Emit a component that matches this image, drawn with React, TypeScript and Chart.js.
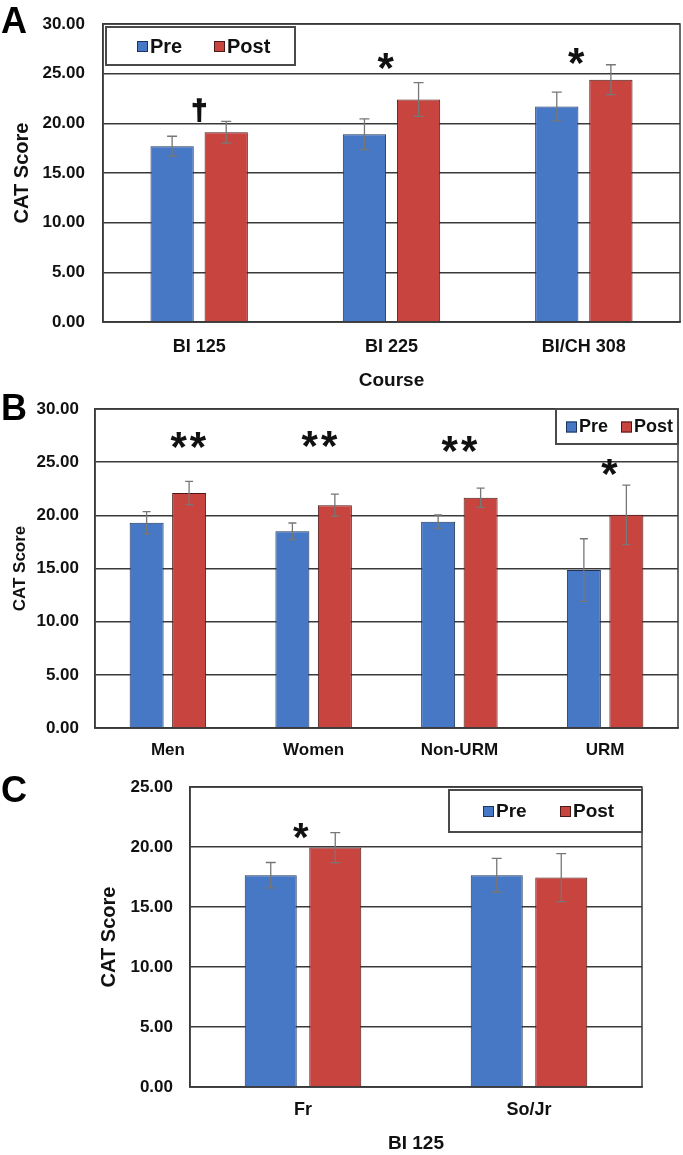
import React, { useEffect, useRef } from 'react';
import { Chart, registerables } from 'chart.js';
Chart.register(...registerables);

// ---------- DATA ----------
// Panel A: by course
const courseLabels = ['BI 125', 'BI 225', 'BI/CH 308'];
const coursePre = [17.7, 18.9, 21.7];
const coursePost = [19.1, 22.4, 24.4];
const coursePreErr = [1.0, 1.55, 1.45];
const coursePostErr = [1.1, 1.7, 1.5];
const courseSig = ['\u2020', '*', '*'];
const courseSigY = [21.3, 26.3, 26.8];
const courseSigDx = [0, -0.03, -0.04];

// Panel B: by demographic group
const groupLabels = ['Men', 'Women', 'Non-URM', 'URM'];
const groupPre = [19.3, 18.5, 19.4, 14.85];
const groupPost = [22.1, 20.95, 21.65, 20.05];
const groupPreErr = [1.05, 0.78, 0.63, 2.95];
const groupPostErr = [1.1, 1.05, 0.9, 2.8];
const groupSig = ['**', '**', '**', '*'];
const groupSigY = [27.1, 27.2, 26.7, 24.5];
const groupSigDx = [0.14, 0.04, 0, 0.03];

// Panel C: BI 125 by class standing
const yearLabels = ['Fr', 'So/Jr'];
const yearPre = [17.65, 17.65];
const yearPost = [19.95, 17.45];
const yearPreErr = [1.06, 1.4];
const yearPostErr = [1.25, 2.0];
const yearSig = ['*', ''];
const yearSigY = [21.3, 0];
const yearSigDx = [-0.01, 0];

const seriesNames = ['Pre', 'Post'];
const yTickStep = 5;

// ---------- STYLE ----------
const FONT = '"Liberation Sans", Arial, sans-serif';
const BLUE = '#4778c5';
const RED = '#c8443f';
const BLUE_EDGE = '#1f3358';
const RED_EDGE = '#4a1a18';
const GRID = '#3a3a3a';
const TEXT = '#111111';
const ERR = '#777777';
const PAIR_SPACING = 3;

type Panel = {
  letter: string;
  labels: string[];
  pre: number[];
  post: number[];
  preErr: number[];
  postErr: number[];
  sig: string[];
  sigY: number[];
  sigDx: number[];
  sigSize: number;
  max: number;
  xTitle: string;
  top: number;
  height: number;
  padTop: number;
  padRight: number;
  yAxisW: number;
  xAxisH: number;
  yTickPad: number;
  xTickPad: number;
  xTickSize: number;
  yTickSize: number;
  yTitleSize: number;
  yTitlePad: number;
  cat: number;
  bar: number;
  capW: number;
  legend: { dx: number; dy: number; w: number; h: number; fromRight: boolean; items: number[]; size: number };
  letterY: number;
};

const panels: Panel[] = [
  {
    letter: 'A', labels: courseLabels, pre: coursePre, post: coursePost,
    preErr: coursePreErr, postErr: coursePostErr, sig: courseSig, sigY: courseSigY, sigDx: courseSigDx,
    sigSize: 42, max: 30, xTitle: 'Course',
    top: 0, height: 392, padTop: 24, padRight: 3, yAxisW: 103, xAxisH: 70,
    yTickPad: 18, xTickPad: 14, xTickSize: 18, yTickSize: 17, yTitleSize: 20, yTitlePad: 10,
    cat: 0.5625, bar: 0.8, capW: 10,
    legend: { dx: 3, dy: 3, w: 189, h: 38, fromRight: false, items: [31, 108], size: 20 },
    letterY: 33,
  },
  {
    letter: 'B', labels: groupLabels, pre: groupPre, post: groupPost,
    preErr: groupPreErr, postErr: groupPostErr, sig: groupSig, sigY: groupSigY, sigDx: groupSigDx,
    sigSize: 42, max: 30, xTitle: '',
    top: 392, height: 368, padTop: 17, padRight: 5, yAxisW: 95, xAxisH: 32,
    yTickPad: 16, xTickPad: 12, xTickSize: 17, yTickSize: 17, yTitleSize: 17, yTitlePad: 10,
    cat: 0.583, bar: 0.8, capW: 8,
    legend: { dx: 122, dy: 0, w: 122, h: 35, fromRight: true, items: [10, 65], size: 18 },
    letterY: 28,
  },
  {
    letter: 'C', labels: yearLabels, pre: yearPre, post: yearPost,
    preErr: yearPreErr, postErr: yearPostErr, sig: yearSig, sigY: yearSigY, sigDx: yearSigDx,
    sigSize: 40, max: 25, xTitle: 'BI 125',
    top: 760, height: 395, padTop: 27, padRight: 41, yAxisW: 190, xAxisH: 68,
    yTickPad: 17, xTickPad: 12, xTickSize: 18, yTickSize: 17, yTitleSize: 20, yTitlePad: 97,
    cat: 0.571, bar: 0.806, capW: 10,
    legend: { dx: 193, dy: 3, w: 193, h: 42, fromRight: true, items: [34, 111], size: 19 },
    letterY: 42,
  },
];

function makeExtras(p: Panel) {
  return {
    id: 'extras' + p.letter,
    beforeDatasetsDraw(chart: any) {
      const { ctx, chartArea } = chart;
      const { left, top, right, bottom } = chartArea;
      ctx.save();
      ctx.strokeStyle = GRID;
      ctx.lineWidth = 1.5;
      ctx.strokeRect(left, top, right - left, bottom - top);
      ctx.restore();
    },
    afterDatasetsDraw(chart: any) {
      const { ctx } = chart;
      const yScale = chart.scales.y;
      const errs = [p.preErr, p.postErr];
      const vals = [p.pre, p.post];
      ctx.save();
      ctx.strokeStyle = ERR;
      ctx.lineWidth = 1.3;
      for (let d = 0; d < 2; d++) {
        const meta = chart.getDatasetMeta(d);
        meta.data.forEach((el: any, j: number) => {
          const x = el.x;
          const yHi = yScale.getPixelForValue(vals[d][j] + errs[d][j]);
          const yLo = yScale.getPixelForValue(vals[d][j] - errs[d][j]);
          ctx.beginPath();
          ctx.moveTo(x, yHi);
          ctx.lineTo(x, yLo);
          ctx.moveTo(x - p.capW / 2, yHi);
          ctx.lineTo(x + p.capW / 2, yHi);
          ctx.moveTo(x - p.capW / 2, yLo);
          ctx.lineTo(x + p.capW / 2, yLo);
          ctx.stroke();
        });
      }
      ctx.restore();
    },
    afterDraw(chart: any) {
      const { ctx, chartArea } = chart;
      const xScale = chart.scales.x;
      const yScale = chart.scales.y;
      ctx.save();
      // significance marks
      ctx.fillStyle = TEXT;
      ctx.textAlign = 'center';
      ctx.textBaseline = 'alphabetic';
      const catW = (chartArea.right - chartArea.left) / p.labels.length;
      p.sig.forEach((s, j) => {
        if (!s) return;
        const isDagger = s === '\u2020';
        const multi = s.length > 1;
        ctx.font = `bold ${isDagger ? 28 : p.sigSize}px ${FONT}`;
        (ctx as any).letterSpacing = multi ? `${PAIR_SPACING}px` : '0px';
        const m = ctx.measureText(s);
        const cx = xScale.getPixelForValue(j) + p.sigDx[j] * catW;
        const cy = yScale.getPixelForValue(p.sigY[j]);
        const by = cy + (m.actualBoundingBoxAscent - m.actualBoundingBoxDescent) / 2;
        const ox = multi ? PAIR_SPACING / 2 : 0;
        ctx.fillText(s, cx + ox, by);
        if (isDagger) {
          ctx.lineWidth = 1.6;
          ctx.strokeStyle = TEXT;
          ctx.strokeText(s, cx, by);
        }
      });
      (ctx as any).letterSpacing = '0px';
      // legend box
      const L = p.legend;
      const bx = L.fromRight ? chartArea.right - L.dx : chartArea.left + L.dx;
      const by = chartArea.top + L.dy;
      ctx.fillStyle = '#ffffff';
      ctx.fillRect(bx, by, L.w, L.h);
      ctx.strokeStyle = '#4a4a4a';
      ctx.lineWidth = 2;
      ctx.strokeRect(bx, by, L.w, L.h);
      const colors = [BLUE, RED];
      const edges = [BLUE_EDGE, RED_EDGE];
      ctx.font = `bold ${L.size}px ${FONT}`;
      ctx.textAlign = 'left';
      ctx.textBaseline = 'middle';
      const midY = by + L.h / 2;
      L.items.forEach((off, i) => {
        const mx = bx + off;
        ctx.fillStyle = colors[i];
        ctx.fillRect(mx, midY - 5, 11, 11);
        ctx.strokeStyle = edges[i];
        ctx.lineWidth = 1;
        ctx.strokeRect(mx + 0.5, midY - 4.5, 10, 10);
        ctx.fillStyle = TEXT;
        ctx.fillText(seriesNames[i], mx + 13, midY + 1);
      });
      // panel letter
      ctx.font = `bold 36px ${FONT}`;
      ctx.textAlign = 'left';
      ctx.textBaseline = 'alphabetic';
      ctx.fillStyle = '#000';
      ctx.fillText(p.letter, 1, p.letterY);
      ctx.restore();
    },
  };
}

function buildChart(canvas: HTMLCanvasElement, p: Panel) {
  return new Chart(canvas, {
    type: 'bar',
    data: {
      labels: p.labels,
      datasets: [
        {
          label: seriesNames[0], data: p.pre, backgroundColor: BLUE, borderColor: BLUE_EDGE,
          borderWidth: 1, categoryPercentage: p.cat, barPercentage: p.bar,
        },
        {
          label: seriesNames[1], data: p.post, backgroundColor: RED, borderColor: RED_EDGE,
          borderWidth: 1, categoryPercentage: p.cat, barPercentage: p.bar,
        },
      ],
    },
    options: {
      responsive: false,
      animation: false,
      devicePixelRatio: 1,
      layout: { padding: { top: p.padTop, right: p.padRight, left: 0, bottom: 0 } },
      plugins: { legend: { display: false }, tooltip: { enabled: false } },
      scales: {
        x: {
          grid: { display: false, drawTicks: false },
          border: { display: true, color: GRID, width: 1.5 },
          ticks: {
            font: { family: FONT, size: p.xTickSize, weight: 'bold' }, color: TEXT,
            padding: p.xTickPad, maxRotation: 0, autoSkip: false,
          },
          title: {
            display: !!p.xTitle, text: p.xTitle,
            font: { family: FONT, size: 19, weight: 'bold' }, color: TEXT,
            padding: { top: 0, bottom: 0 },
          },
          afterFit: (s: any) => {
            s.height = p.xAxisH;
            s.paddingLeft = 0;
            s.paddingRight = 0;
          },
        },
        y: {
          min: 0, max: p.max,
          ticks: {
            stepSize: yTickStep,
            callback: (v: any) => Number(v).toFixed(2),
            font: { family: FONT, size: p.yTickSize, weight: 'bold' }, color: TEXT,
            padding: p.yTickPad,
          },
          grid: { color: GRID, lineWidth: 1.5, drawTicks: false },
          border: { display: true, color: GRID, width: 1.5 },
          title: {
            display: true, text: 'CAT Score',
            font: { family: FONT, size: p.yTitleSize, weight: 'bold' }, color: TEXT,
            padding: { top: p.yTitlePad, bottom: 0 },
          },
          afterFit: (s: any) => {
            s.width = p.yAxisW;
            s.paddingTop = 0;
            s.paddingBottom = 0;
          },
        },
      },
    } as any,
    plugins: [makeExtras(p)],
  });
}

function PanelChart({ p }: { p: Panel }) {
  const ref = useRef<HTMLCanvasElement | null>(null);
  useEffect(() => {
    if (!ref.current) return;
    const chart = buildChart(ref.current, p);
    return () => chart.destroy();
  }, [p]);
  return (
    <canvas
      ref={ref}
      width={683}
      height={p.height}
      style={{ position: 'absolute', left: 0, top: p.top, width: 683, height: p.height, display: 'block' }}
    />
  );
}

export default function App() {
  return (
    <div style={{ position: 'absolute', left: 0, top: 0, width: 683, height: 1155, background: '#fff' }}>
      {panels.map((p) => (
        <PanelChart key={p.letter} p={p} />
      ))}
    </div>
  );
}
